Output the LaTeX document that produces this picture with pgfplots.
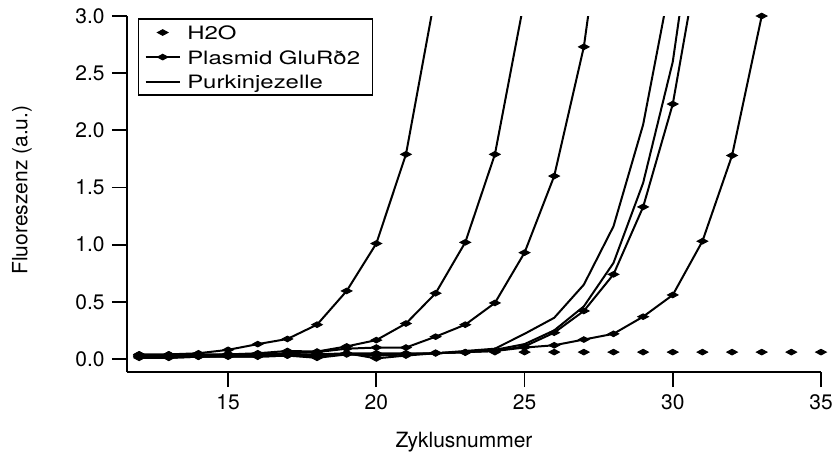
\documentclass[border=0pt]{standalone}
\usepackage{pgfplots}
\pgfplotsset{compat=1.18}
\usepackage{fontspec}
\setmainfont{TeX Gyre Heros}
\newfontfamily\legfont[FakeStretch=1.3]{TeX Gyre Heros}
\newcommand{\leg}[1]{{\legfont\fontsize{9.2}{11}\selectfont\rule[-2.1pt]{0pt}{10.8pt}#1}}
\pgfdeclareplotmark{wdiamond}{%
  \pgfpathmoveto{\pgfqpoint{-2.6pt}{0pt}}%
  \pgfpathlineto{\pgfqpoint{0pt}{1.4pt}}%
  \pgfpathlineto{\pgfqpoint{2.6pt}{0pt}}%
  \pgfpathlineto{\pgfqpoint{0pt}{-1.4pt}}%
  \pgfpathclose\pgfusepathqfillstroke}
\begin{document}
\fontsize{10.5}{12.6}\selectfont
\begin{tikzpicture}
\useasboundingbox (-63.5pt,-40pt) rectangle (353.5pt,186pt);
\begin{axis}[
  at={(0pt,0pt)}, anchor=south west,
  scale only axis, width=347pt, height=178pt,
  xmin=11.59, xmax=35, ymin=-0.114, ymax=3.0,
  axis lines=left,
  axis line style={-, line width=0.9pt},
  tick align=outside, major tick length=7.5pt,
  tick style={line width=0.9pt, black},
  xtick={15,20,25,30,35},
  ytick={0,0.5,1,1.5,2,2.5,3},
  yticklabel style={/pgf/number format/.cd, fixed, fixed zerofill, precision=1},
  /pgf/number format/assume math mode=true,
  xlabel={Zyklusnummer}, ylabel={Fluoreszenz (a.u.)},
  xlabel style={at={(axis description cs:0.4856,-0.2115)}, anchor=base},
  ylabel style={at={(axis description cs:-0.1513,0.511)}, anchor=center},
  every axis plot/.append style={line width=1pt, black},
  mark options={solid, line width=0.5pt},
  legend cell align=left,
  legend style={at={(axis description cs:0,1)}, anchor=north west, xshift=5.5pt, yshift=-1.2pt,
    draw=black, line width=0.65pt,
    inner xsep=3pt, inner ysep=1.6pt, row sep=2pt, column sep=0pt,
    nodes={inner xsep=3.25pt, inner ysep=0pt}},
]
% H2O
\addplot[only marks, mark=wdiamond] coordinates {
(12,0.04)(13,0.04)(14,0.04)(15,0.045)(16,0.045)(17,0.05)(18,0.05)(19,0.05)(20,0.05)(21,0.05)(22,0.055)(23,0.055)(24,0.06)(25,0.06)(26,0.06)(27,0.06)(28,0.06)(29,0.06)(30,0.06)(31,0.06)(32,0.06)(33,0.06)(34,0.06)(35,0.06)};
\addlegendentry{\leg{H2O}}
% Plasmid dilutions
\addplot[mark=wdiamond] coordinates {
(12,0.04)(13,0.04)(14,0.05)(15,0.08)(16,0.13)(17,0.175)(18,0.30)(19,0.595)(20,1.01)(21,1.79)(22,3.2)};
\addlegendentry{\leg{Plasmid GluRð2}}
% Purkinje
\addplot[no marks] coordinates {
(12,0.02)(13,0.02)(14,0.02)(15,0.03)(16,0.03)(17,0.04)(18,0.04)(19,0.05)(20,0.05)(21,0.05)(22,0.05)(23,0.07)(24,0.09)(25,0.22)(26,0.36)(27,0.65)(28,1.16)(29,2.05)(30,3.4)};
\addlegendentry{\leg{Purkinjezelle}}
\addplot[no marks, forget plot] coordinates {
(12,0.01)(13,0.01)(14,0.02)(15,0.02)(16,0.02)(17,0.03)(18,0.03)(19,0.04)(20,0.04)(21,0.04)(22,0.05)(23,0.06)(24,0.08)(25,0.13)(26,0.25)(27,0.46)(28,0.84)(29,1.54)(30,2.60)(31,4.4)};
\addplot[mark=wdiamond, forget plot] coordinates {
(12,0.03)(13,0.03)(14,0.04)(15,0.04)(16,0.05)(17,0.07)(18,0.065)(19,0.11)(20,0.165)(21,0.31)(22,0.575)(23,1.02)(24,1.79)(25,3.15)};
\addplot[mark=wdiamond, forget plot] coordinates {
(12,0.02)(13,0.03)(14,0.03)(15,0.04)(16,0.04)(17,0.05)(18,0.06)(19,0.09)(20,0.10)(21,0.10)(22,0.195)(23,0.30)(24,0.49)(25,0.93)(26,1.60)(27,2.73)(28,4.6)};
\addplot[mark=wdiamond, forget plot] coordinates {
(12,0.02)(13,0.02)(14,0.02)(15,0.03)(16,0.03)(17,0.03)(18,0.02)(19,0.05)(20,0.005)(21,0.03)(22,0.05)(23,0.06)(24,0.07)(25,0.11)(26,0.23)(27,0.42)(28,0.74)(29,1.33)(30,2.23)(31,3.7)};
\addplot[mark=wdiamond, forget plot] coordinates {
(12,0.01)(13,0.01)(14,0.02)(15,0.02)(16,0.02)(17,0.03)(18,0.01)(19,0.04)(20,0.03)(21,0.04)(22,0.05)(23,0.06)(24,0.07)(25,0.10)(26,0.12)(27,0.17)(28,0.22)(29,0.37)(30,0.56)(31,1.03)(32,1.78)(33,3.0)};
\end{axis}
\end{tikzpicture}
\end{document}
